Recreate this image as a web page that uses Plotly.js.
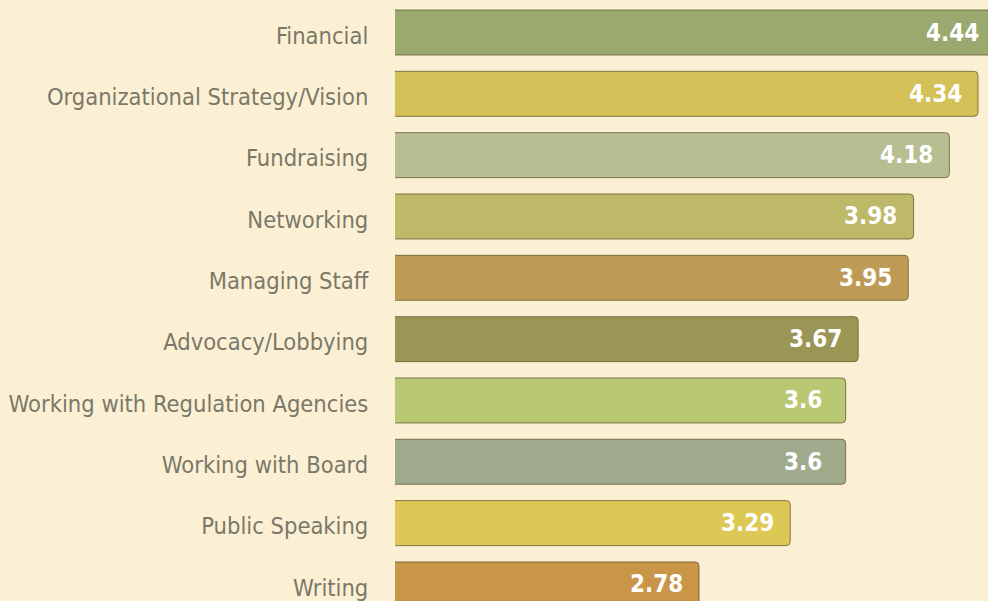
<!DOCTYPE html>
<html>
<head>
<meta charset="utf-8">
<script src="https://cdn.plot.ly/plotly-3.0.1.min.js"></script>
<style>
html,body{margin:0;padding:0;background:#fcf0d4;overflow:hidden;width:988px;height:601px;}
#chart{width:1000px;height:601px;}
</style>
</head>
<body>
<div id="chart"></div>
<script>
var categories = ["Financial", "Organizational Strategy/Vision", "Fundraising", "Networking", "Managing Staff", "Advocacy/Lobbying", "Working with Regulation Agencies", "Working with Board", "Public Speaking", "Writing"];
var values = [4.44, 4.34, 4.18, 3.98, 3.95, 3.67, 3.6, 3.6, 3.29, 2.78];
var valueLabels = ["4.44", "4.34", "4.18", "3.98", "3.95", "3.67", "3.6", "3.6", "3.29", "2.78"];
var barColors = ["#9aaa6e", "#d4c158", "#b7be91", "#beb969", "#be9b55", "#9b9655", "#b9c873", "#a0aa8c", "#dcc855", "#c89646"];

var bars = {
  type: "bar",
  orientation: "h",
  y: categories,
  x: values,
  width: 0.734,
  marker: {color: barColors, line: {color: "rgba(95,85,45,0.75)", width: 1}, cornerradius: 4},
  hoverinfo: "none"
};

var annotations = values.map(function (v, i) {
  return {
    x: v, y: categories[i], xref: "x", yref: "y",
    text: valueLabels[i], showarrow: false,
    xanchor: "center", yanchor: "middle",
    xshift: -43, yshift: 0,
    font: {family: "DejaVu Sans Condensed", size: 24, color: "#ffffff", weight: "bold"}
  };
});

var layout = {
  width: 1000,
  height: 601,
  margin: {l: 395, r: 0, t: 0, b: 0, pad: 0},
  paper_bgcolor: "#fcf0d4",
  plot_bgcolor: "#fcf0d4",
  showlegend: false,
  annotations: annotations,
  xaxis: {range: [1.08, 4.463], showgrid: false, zeroline: false, showticklabels: false, showline: false, ticks: ""},
  yaxis: {
    type: "category",
    range: [9.27, -0.53],
    showgrid: false, zeroline: false, showline: false,
    ticks: "outside", ticklen: 21, tickcolor: "rgba(0,0,0,0)",
    ticklabelshift: -3,
    tickfont: {family: "DejaVu Sans Condensed", size: 23.5, color: "#7a7868"}
  }
};

Plotly.newPlot("chart", [bars], layout, {displayModeBar: false, staticPlot: true});
</script>
</body>
</html>
